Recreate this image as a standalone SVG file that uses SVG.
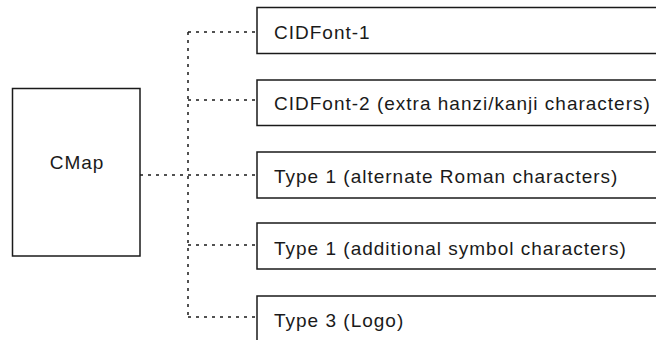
<svg xmlns="http://www.w3.org/2000/svg" width="656" height="340" viewBox="0 0 656 340">
<style>
.box{fill:#fff;stroke:#1a1a1a;stroke-width:1.5}
.lbl{font-family:"Liberation Sans",Arial,sans-serif;font-size:19px;letter-spacing:1px;fill:#1a1a1a}
.conn{fill:none;stroke:#1a1a1a;stroke-width:1.5;stroke-dasharray:3 5}
</style>
<rect width="656" height="340" fill="#fff"/>
<g id="connectors">
<path class="conn" d="M188,32 V317"/>
<path class="conn" d="M188,32 H257"/>
<path class="conn" d="M188,100 H257"/>
<path class="conn" d="M140,175 H257"/>
<path class="conn" d="M188,245 H257"/>
<path class="conn" d="M188,317 H257"/>
</g>
<g id="cmap">
<rect class="box" x="12.5" y="88.5" width="127.5" height="167.5"/>
<text class="lbl" x="77" y="169" text-anchor="middle">CMap</text>
</g>
<g id="cidfont1">
<rect class="box" x="257" y="7.5" width="420" height="46"/>
<text class="lbl" x="274" y="39">CIDFont-1</text>
</g>
<g id="cidfont2">
<rect class="box" x="257" y="80" width="420" height="45.5"/>
<text class="lbl" x="274" y="110">CIDFont-2 (extra hanzi/kanji characters)</text>
</g>
<g id="type1-roman">
<rect class="box" x="257" y="152" width="420" height="46"/>
<text class="lbl" x="274" y="183">Type 1 (alternate Roman characters)</text>
</g>
<g id="type1-symbol">
<rect class="box" x="257" y="223" width="420" height="46"/>
<text class="lbl" x="274" y="255">Type 1 (additional symbol characters)</text>
</g>
<g id="type3-logo">
<rect class="box" x="257" y="296" width="420" height="60"/>
<text class="lbl" x="274" y="327">Type 3 (Logo)</text>
</g>
</svg>
